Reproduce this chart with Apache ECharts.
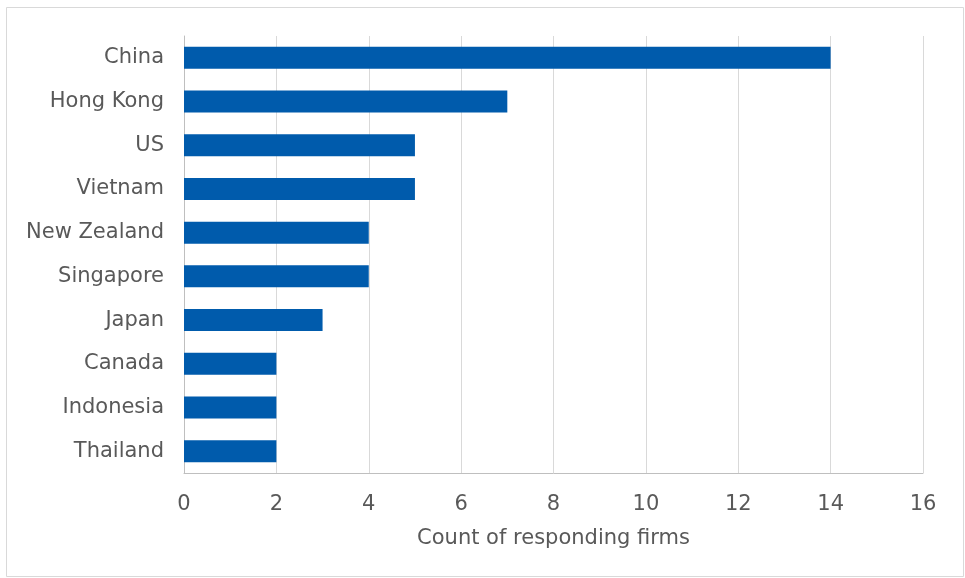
<!DOCTYPE html>
<html>
<head>
<meta charset="utf-8">
<script src="https://cdn.jsdelivr.net/npm/echarts@6/dist/echarts.min.js"></script>
<style>
  html, body { margin: 0; padding: 0; background: #fff; }
  #chart { width: 965px; height: 578px; }
</style>
</head>
<body>
<div id="chart"></div>
<script>
// Countries, top to bottom as shown
const countries = ['China', 'Hong Kong', 'US', 'Vietnam', 'New Zealand', 'Singapore', 'Japan', 'Canada', 'Indonesia', 'Thailand'];
const firmCounts = [14, 7, 5, 5, 4, 4, 3, 2, 2, 2];

const labelColor = '#595959';
const labelFont = 'DejaVu Sans, Verdana, sans-serif';

let myChart = echarts.init(document.getElementById('chart'));

let option = {
    backgroundColor: '#fff',
    animation: false,
    textStyle: { fontFamily: labelFont },
    // outer frame of the chart
    graphic: [
        {
            type: 'rect',
            shape: { x: 6.5, y: 7.5, width: 957, height: 569 },
            style: { fill: 'none', stroke: '#d9d9d9', lineWidth: 1 },
            silent: true
        }
    ],
    grid: {
        left: 184,
        right: 42,
        top: 36,
        bottom: 105,
        containLabel: false
    },
    xAxis: {
        type: 'value',
        min: 0,
        max: 16,
        interval: 2,
        name: 'Count of responding firms',
        nameLocation: 'middle',
        nameGap: 55,
        nameTextStyle: { color: labelColor, fontSize: 21, fontFamily: labelFont },
        axisLine: { show: true, lineStyle: { color: '#bfbfbf', width: 1 } },
        axisTick: { show: false },
        axisLabel: { color: labelColor, fontSize: 21, margin: 21, fontFamily: labelFont },
        splitLine: { show: true, lineStyle: { color: '#d9d9d9', width: 1 } }
    },
    yAxis: {
        type: 'category',
        data: countries,
        inverse: true,
        axisLine: { show: true, lineStyle: { color: '#bfbfbf', width: 1 } },
        axisTick: { show: false },
        axisLabel: { color: labelColor, fontSize: 21, margin: 20, fontFamily: labelFont }
    },
    series: [
        {
            name: 'Count',
            type: 'bar',
            data: firmCounts,
            barWidth: 22,
            itemStyle: { color: '#005bac' }
        }
    ]
};

myChart.setOption(option);
</script>
</body>
</html>
